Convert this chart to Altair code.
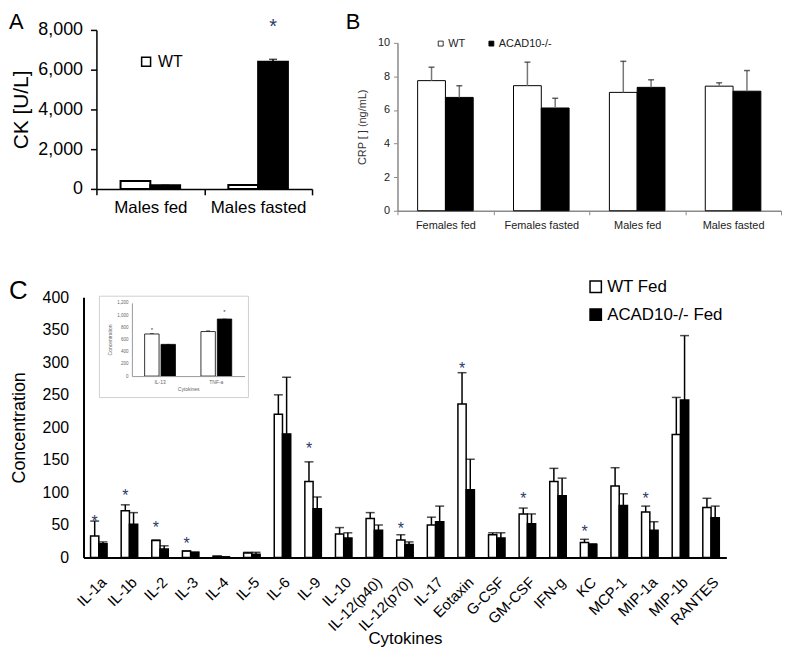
import altair as alt
import pandas as pd

FONT = "Liberation Sans"
STAR = "#2b3a67"

# ---------------- Panel A ----------------
a_groups = ["Males fed", "Males fasted"]
a_series = ["WT", "ACAD10-/-"]
a_wt = [400, 200]
a_wt_top = [400, 200]
a_ko = [180, 6400]
a_ko_top = [180, 6520]
a_star_group = ["Males fasted"]
a_star_series = ["ACAD10-/-"]
a_star_value = [8250]

# ---------------- Panel B ----------------
b_groups = ["Females fed", "Females fasted", "Males fed", "Males fasted"]
b_series = ["WT", "ACAD10-/-"]
b_wt = [7.75, 7.45, 7.05, 7.42]
b_wt_top = [8.55, 8.85, 8.9, 7.62]
b_ko = [6.75, 6.12, 7.35, 7.12]
b_ko_top = [7.45, 6.7, 7.8, 8.35]

# ---------------- Panel C ----------------
cytokines = ["IL-1a", "IL-1b", "IL-2", "IL-3", "IL-4", "IL-5", "IL-6", "IL-9", "IL-10",
             "IL-12(p40)", "IL-12(p70)", "IL-17", "Eotaxin", "G-CSF", "GM-CSF", "IFN-g",
             "KC", "MCP-1", "MIP-1a", "MIP-1b", "RANTES"]
c_series = ["WT Fed", "ACAD10-/- Fed"]
c_wt = [33, 72, 26, 10, 2, 7, 220, 117, 36, 60, 27, 50, 236, 35, 67, 117, 23, 110, 70, 189, 77]
c_wt_top = [56, 81, 27, 10, 2, 8, 250, 147, 46, 69, 35, 62, 284, 38, 76, 137, 28, 138, 79, 246, 91]
c_ko = [21, 51, 13, 8, 1, 5, 190, 75, 30, 42, 20, 55, 104, 30, 52, 95, 20, 80, 42, 242, 61]
c_ko_top = [24, 69, 18, 8, 1, 8, 277, 93, 38, 50, 24, 79, 151, 38, 67, 122, 21, 98, 55, 341, 79]
c_star_cyt = ["IL-1a", "IL-1b", "IL-2", "IL-3", "IL-9", "IL-12(p70)", "Eotaxin", "GM-CSF", "KC", "MIP-1a"]
c_star_val = [61, 100, 51, 27, 173, 50, 296, 96, 45, 96]

# ---------------- Inset ----------------
i_cats = ["IL-13", "TNF-a"]
i_wt = [690, 730]
i_wt_top = [700, 742]
i_ko = [520, 935]
i_ko_top = [520, 935]
i_star_cat = ["IL-13", "TNF-a"]
i_star_grp = ["WT", "KO"]
i_star_val = [790, 1090]

# ======================= Panel A chart =======================
dfA = pd.DataFrame({"cat": a_groups * 2,
                    "grp": [a_series[0]] * 2 + [a_series[1]] * 2,
                    "val": a_wt + a_ko, "top": a_wt_top + a_ko_top})
dfA_star = pd.DataFrame({"cat": a_star_group, "grp": a_star_series, "val": a_star_value})

xA = alt.X("cat:N", sort=a_groups,
           scale=alt.Scale(range=[13, 230], paddingInner=0, paddingOuter=0),
           axis=alt.Axis(title=None, labelAngle=0, tickBand="extent", labelFontSize=17,
                         labelColor="black", domainColor="black", tickColor="black",
                         domainWidth=1.5, tickWidth=1.5, tickSize=6, labelPadding=5))
xoA = alt.XOffset("grp:N", sort=a_series, scale=alt.Scale(paddingInner=0, paddingOuter=0.81))


def yA(field):
    return alt.Y(f"{field}:Q", scale=alt.Scale(domain=[0, 8000]),
                 axis=alt.Axis(title="CK [U/L]", values=[0, 2000, 4000, 6000, 8000], format=",.0f",
                               offset=-13, labelFontSize=18, labelColor="black", titleFontSize=21,
                               titleFontWeight="normal", titleColor="black", domainColor="black",
                               tickColor="black", domainWidth=1.5, tickWidth=1.5, tickSize=6,
                               labelPadding=8, titlePadding=6, labelOverlap=False))


barsA = alt.Chart(dfA).mark_bar(stroke="black", strokeWidth=2).encode(
    x=xA, xOffset=xoA, y=yA("val"),
    fill=alt.Fill("grp:N", sort=a_series,
                  scale=alt.Scale(domain=a_series, range=["white", "black"]),
                  legend=alt.Legend(values=["WT"], orient="none", legendX=55, legendY=24,
                                    title=None, symbolType="square", symbolSize=81,
                                    symbolStrokeColor="black", symbolStrokeWidth=1.5,
                                    labelFontSize=16, labelColor="black", padding=0)))
ruleA = alt.Chart(dfA).mark_rule(color="black", strokeWidth=1.5).encode(
    x=xA, xOffset=xoA, y=yA("val"), y2="top:Q")
capA = alt.Chart(dfA).mark_tick(color="black", thickness=1.5, size=8, orient="horizontal").encode(
    x=xA, xOffset=xoA, y=yA("top"))
starA = alt.Chart(dfA_star).mark_text(text="*", fontSize=20, color=STAR, dy=2).encode(
    x=xA, xOffset=xoA, y=yA("val"))

chartA = alt.layer(barsA, ruleA, capA, starA).properties(
    width=230, height=160,
    title=alt.TitleParams("A", anchor="start", frame="group", dx=-75, dy=17, fontSize=22,
                          fontWeight="normal", color="black", offset=0))

# ======================= Panel B chart =======================
dfB = pd.DataFrame({"cat": b_groups * 2,
                    "grp": [b_series[0]] * 4 + [b_series[1]] * 4,
                    "val": b_wt + b_ko, "top": b_wt_top + b_ko_top})
GRAY = "#8a8a8a"
xB = alt.X("cat:N", sort=b_groups, scale=alt.Scale(paddingInner=0, paddingOuter=0),
           axis=alt.Axis(title=None, labelAngle=0, tickBand="extent", labelFontSize=11,
                         labelColor="#222", domainColor=GRAY, tickColor=GRAY, tickSize=4,
                         labelPadding=5, domainWidth=1.5))
xoB = alt.XOffset("grp:N", sort=b_series, scale=alt.Scale(paddingInner=0, paddingOuter=0.725))


def yB(field):
    return alt.Y(f"{field}:Q", scale=alt.Scale(domain=[0, 10], range=[182, 13]),
                 axis=alt.Axis(title="CRP [ ]  (ng/mL)", values=[0, 2, 4, 6, 8, 10], labelFontSize=11,
                               labelColor="#222", titleFontSize=11, titleFontWeight="normal",
                               titleColor="#333", domainColor=GRAY, tickColor=GRAY, tickSize=4,
                               labelPadding=4, titlePadding=10, domainWidth=1.5,
                               labelOverlap=False))


barsB = alt.Chart(dfB).mark_bar(stroke="black", strokeWidth=1).encode(
    x=xB, xOffset=xoB, y=yB("val"),
    fill=alt.Fill("grp:N", sort=b_series,
                  scale=alt.Scale(domain=b_series, range=["white", "black"]),
                  legend=alt.Legend(orient="none", direction="horizontal", legendX=38,
                                    legendY=8, title=None, symbolType="square", symbolSize=25,
                                    symbolStrokeColor="black", symbolStrokeWidth=0.8,
                                    labelFontSize=11, labelColor="#222", columnPadding=20,
                                    labelOffset=2, padding=0)))
ruleB = alt.Chart(dfB).mark_rule(color="#777", strokeWidth=1.5).encode(
    x=xB, xOffset=xoB, y=yB("val"), y2="top:Q")
capB = alt.Chart(dfB).mark_tick(color="#222", thickness=1.5, size=6, orient="horizontal").encode(
    x=xB, xOffset=xoB, y=yB("top"))
chartB = alt.layer(barsB, ruleB, capB).properties(
    width=386, height=182,
    title=alt.TitleParams("B", anchor="start", frame="group", dx=-52, dy=4, fontSize=22,
                          fontWeight="normal", color="black", offset=0))

# ======================= Panel C chart =======================
dfC = pd.DataFrame({"cyt": cytokines * 2,
                    "grp": [c_series[0]] * len(cytokines) + [c_series[1]] * len(cytokines),
                    "val": c_wt + c_ko, "top": c_wt_top + c_ko_top})
dfC_star = pd.DataFrame({"cyt": c_star_cyt, "grp": [c_series[0]] * len(c_star_cyt),
                         "val": c_star_val})
xC = alt.X("cyt:N", sort=cytokines, scale=alt.Scale(paddingInner=0, paddingOuter=0),
           axis=alt.Axis(title="Cytokines", labelAngle=-45, labelFontSize=15, ticks=False,
                         labelColor="black", domainColor="black", domainWidth=2,
                         titleFontSize=17, titleFontWeight="normal", titleColor="black",
                         labelPadding=17, titlePadding=-3))
xoC = alt.XOffset("grp:N", sort=c_series, scale=alt.Scale(paddingInner=0, paddingOuter=0.855))


def yC(field):
    return alt.Y(f"{field}:Q", scale=alt.Scale(domain=[0, 400]),
                 axis=alt.Axis(title="Concentration", values=list(range(0, 401, 50)), ticks=False,
                               labelFontSize=16, labelColor="black", domainColor="black",
                               domainWidth=2, titleFontSize=18, titleFontWeight="normal",
                               titleColor="black", labelPadding=15, titlePadding=14,
                               labelOverlap=False))


barsC = alt.Chart(dfC).mark_bar(stroke="black", strokeWidth=1.5).encode(
    x=xC, xOffset=xoC, y=yC("val"),
    fill=alt.Fill("grp:N", sort=c_series,
                  scale=alt.Scale(domain=c_series, range=["white", "black"]),
                  legend=alt.Legend(orient="none", legendX=507, legendY=-19, title=None,
                                    symbolType="square", symbolSize=130,
                                    symbolStrokeColor="black", symbolStrokeWidth=1.5,
                                    labelFontSize=17, labelColor="black", rowPadding=9,
                                    labelOffset=3, padding=0)))
ruleC = alt.Chart(dfC).mark_rule(color="black", strokeWidth=1.5).encode(
    x=xC, xOffset=xoC, y=yC("val"), y2="top:Q")
capC = alt.Chart(dfC).mark_tick(color="black", thickness=1.5, size=9, orient="horizontal").encode(
    x=xC, xOffset=xoC, y=yC("top"))
starC = alt.Chart(dfC_star).mark_text(text="*", fontSize=16, color=STAR, dy=4).encode(
    x=xC, xOffset=xoC, y=yC("val"))
mainC = alt.layer(barsC, ruleC, capC, starC)

# inset
dfI = pd.DataFrame({"icat": i_cats * 2, "igrp": ["WT"] * 2 + ["KO"] * 2,
                    "ival": i_wt + i_ko, "itop": i_wt_top + i_ko_top})
dfI_star = pd.DataFrame({"icat": i_star_cat, "igrp": i_star_grp, "ival": i_star_val})
IG = "#666"
xI = alt.X("icat:N", sort=i_cats, scale=alt.Scale(range=[48.7, 162], paddingInner=0, paddingOuter=0),
           axis=alt.Axis(orient="bottom", offset=-182.6, title="Cytokines", labelAngle=0,
                         ticks=False, labelFontSize=5, labelColor=IG, titleFontSize=5,
                         titleFontWeight="normal", titleColor=IG, domainColor="#999",
                         labelPadding=3, titlePadding=2, zindex=2))
xoI = alt.XOffset("igrp:N", sort=["WT", "KO"], scale=alt.Scale(paddingInner=0.121, paddingOuter=0.777))


def yI(field):
    return alt.Y(f"{field}:Q", scale=alt.Scale(domain=[0, 1200], range=[79.4, 5.7]),
                 axis=alt.Axis(orient="left", offset=-48.7, title="Concentration",
                               values=list(range(0, 1201, 200)), format=",.0f", ticks=False,
                               labelFontSize=4.5, labelColor=IG, titleFontSize=5,
                               titleFontWeight="normal", titleColor=IG, domainColor="#999",
                               labelPadding=4, titlePadding=4, zindex=2, labelOverlap=False))


boxI = alt.Chart(pd.DataFrame({"k": [0]})).mark_rect(fill="white", stroke="#d0d0d0", strokeWidth=1).encode(
    x=alt.value(16), x2=alt.value(166), y=alt.value(-1), y2=alt.value(101))
barsI = alt.Chart(dfI).mark_bar(stroke="black", strokeWidth=0.8).encode(
    x=xI, xOffset=xoI, y=yI("ival"),
    fill=alt.Fill("igrp:N", scale=alt.Scale(domain=["WT", "KO"], range=["white", "black"]), legend=None))
capI = alt.Chart(dfI).mark_tick(color="black", thickness=0.8, size=4, orient="horizontal").encode(
    x=xI, xOffset=xoI, y=yI("itop"))
starI = alt.Chart(dfI_star).mark_text(text="*", fontSize=6, color="#333", dy=2).encode(
    x=xI, xOffset=xoI, y=yI("ival"))
inset = alt.layer(boxI, barsI, capI, starI)

chartC = alt.layer(mainC, inset).resolve_scale(
    x="independent", y="independent", xOffset="independent", fill="independent"
).resolve_axis(x="independent", y="independent").properties(
    width=647, height=262,
    title=alt.TitleParams("C", anchor="start", frame="group", dx=-75, dy=26, fontSize=26,
                          fontWeight="normal", color="black", offset=0))

top = alt.hconcat(chartA, chartB, spacing=86, bounds="flush").resolve_scale(
    x="independent", y="independent", xOffset="independent", fill="independent"
).resolve_legend(fill="independent")

chart = alt.vconcat(top, chartC, spacing=269, bounds="flush").resolve_scale(
    x="independent", y="independent", xOffset="independent", fill="independent"
).resolve_legend(fill="independent").properties(padding=0).configure(
    font=FONT
).configure_view(stroke="transparent").configure_axis(grid=False)

chart.save("out.html", embed_options={"renderer": "svg", "actions": False})
